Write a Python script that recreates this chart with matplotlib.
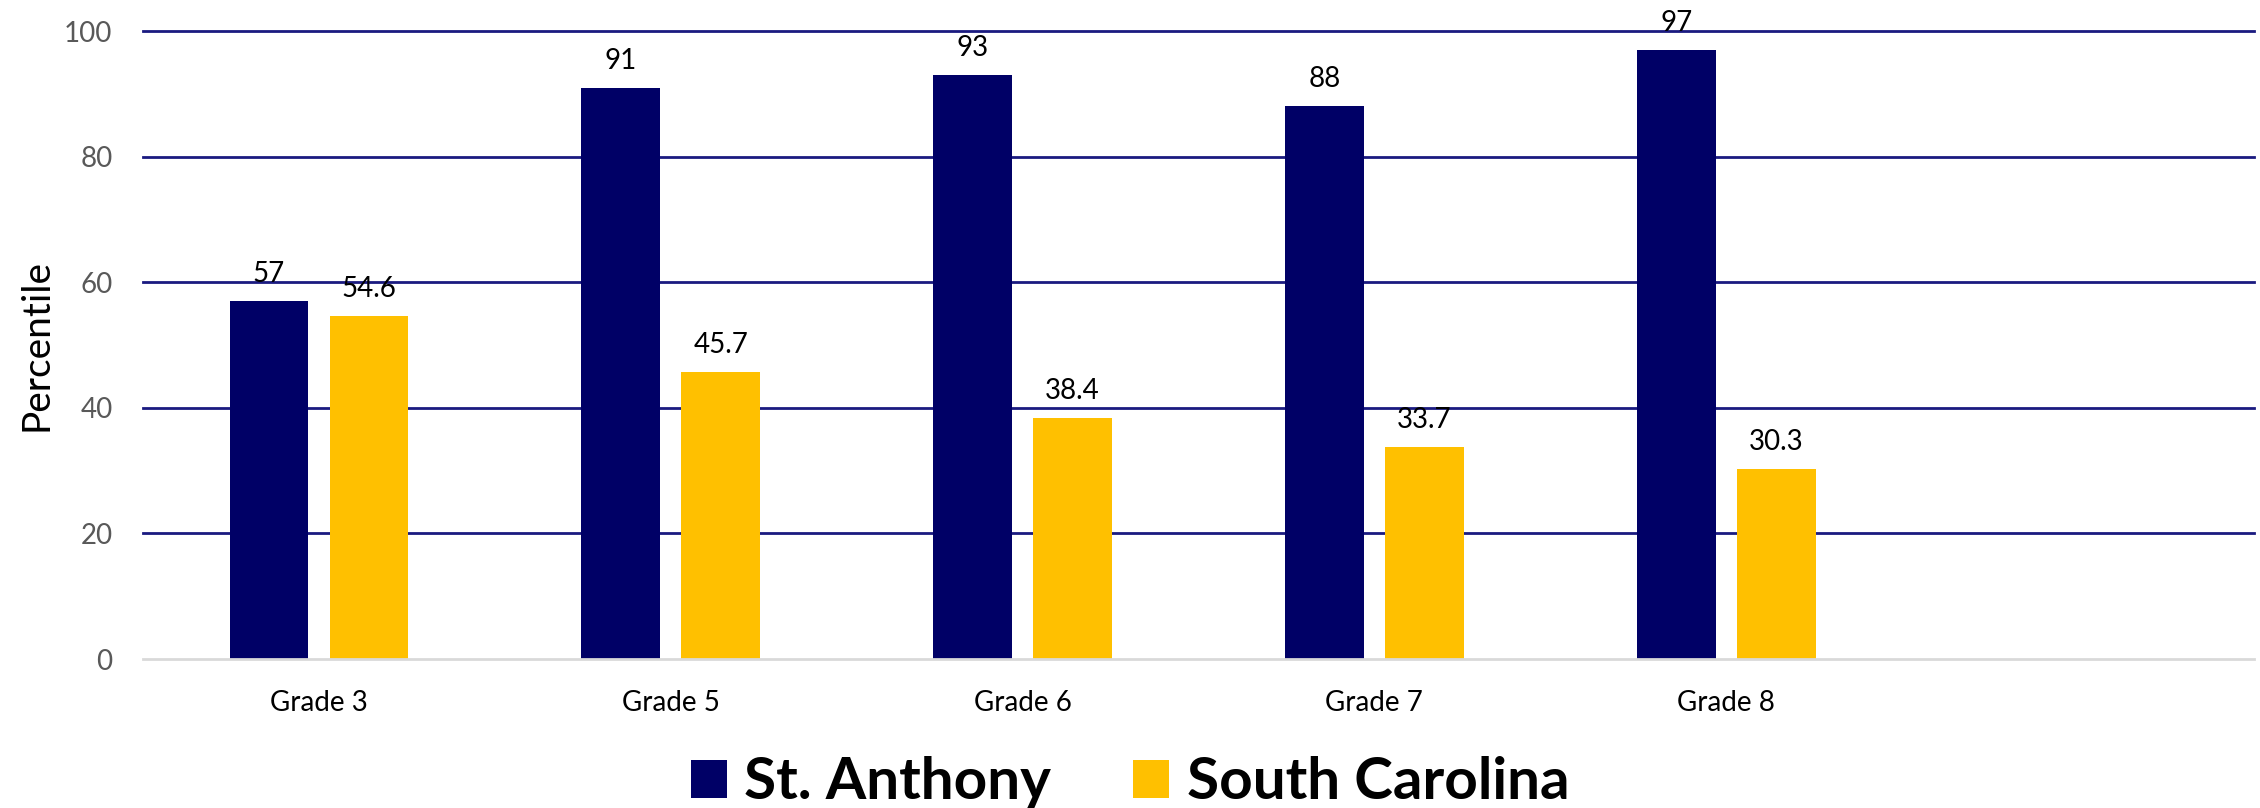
"""Grouped bar chart: St. Anthony vs South Carolina percentile by grade."""
import matplotlib
matplotlib.use("Agg")
import matplotlib.pyplot as plt
import numpy as np

# Data (last category is an empty slot)
grades = ["Grade 3", "Grade 5", "Grade 6", "Grade 7", "Grade 8", ""]
st_anthony = [57, 91, 93, 88, 97, np.nan]
south_carolina = [54.6, 45.7, 38.4, 33.7, 30.3, np.nan]
st_anthony_labels = ["57", "91", "93", "88", "97", ""]
south_carolina_labels = ["54.6", "45.7", "38.4", "33.7", "30.3", ""]

NAVY = "#000066"
GOLD = "#FFC000"
FONT = ["Lato", "DejaVu Sans"]

plt.rcParams["font.family"] = FONT

fig = plt.figure(figsize=(22.6, 8.08), dpi=100)
ax = fig.add_axes([0.0633, 0.1844, 0.9340, 0.7772])

x = np.arange(len(grades))
bar_w = 0.224
offset = 0.142
b1 = ax.bar(x - offset, st_anthony, width=bar_w, color=NAVY, label="St. Anthony", zorder=3)
b2 = ax.bar(x + offset, south_carolina, width=bar_w, color=GOLD, label="South Carolina", zorder=3)

for bars, labels in [(b1, st_anthony_labels), (b2, south_carolina_labels)]:
    texts = ax.bar_label(bars, labels=labels, padding=10, fontsize=20, color="black")
    for t in texts:
        t.set_zorder(6)

ax.set_xlim(-0.5, len(grades) - 0.5)
ax.set_ylim(0, 100)
ax.set_yticks(np.arange(0, 101, 20))
ax.set_xticks(x)
ax.set_xticklabels(grades)

# Gridlines (skip zero, which is the grey axis line)
for yv in np.arange(20, 101, 20):
    ax.axhline(yv, color="#1a1a80", linewidth=2, zorder=1, clip_on=False)

for side in ["top", "right", "left"]:
    ax.spines[side].set_visible(False)
ax.spines["bottom"].set_color("#d9d9d9")
ax.spines["bottom"].set_linewidth(2)
ax.spines["bottom"].set_zorder(4)

ax.tick_params(axis="both", length=0)
ax.tick_params(axis="y", labelsize=20, labelcolor="#595959", pad=22)
ax.tick_params(axis="x", labelsize=20, labelcolor="black", pad=22)

ax.set_ylabel("Percentile", fontsize=28, color="black")
ax.yaxis.set_label_coords(-0.042, 0.5)

fig.legend(handles=[b1, b2], loc="center", bbox_to_anchor=(0.5, 0.031), ncol=2,
           frameon=False, prop={"family": FONT, "weight": "bold", "size": 42},
           handlelength=0.62, handleheight=0.62, handletextpad=0.3, columnspacing=1.4)

fig.savefig("out.png", dpi=100)
plt.close(fig)
